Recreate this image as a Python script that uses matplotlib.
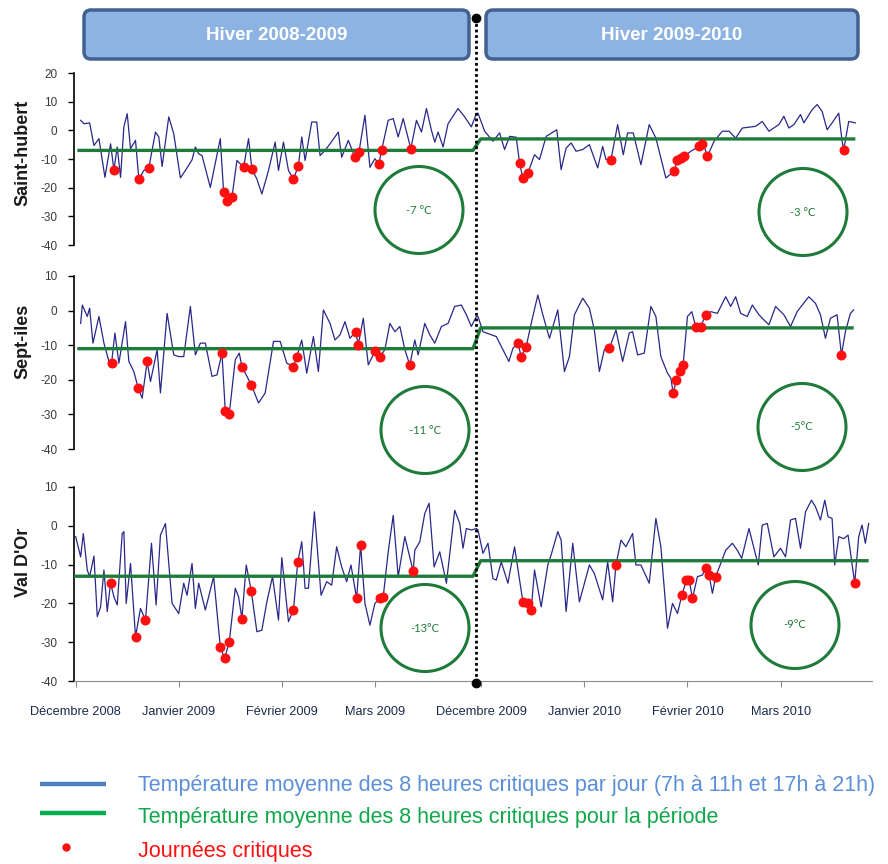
import matplotlib
matplotlib.use("Agg")
import matplotlib.pyplot as plt
from matplotlib.patches import FancyBboxPatch, Ellipse
import numpy as np

plt.rcParams['font.family'] = ['Liberation Sans', 'DejaVu Sans']
plt.rcParams['axes.unicode_minus'] = False

# ---------------- data ----------------
stations = ["Saint-hubert", "Sept-iles", "Val D'Or"]
winters = ["Hiver 2008-2009", "Hiver 2009-2010"]
month_labels = ["Décembre 2008", "Janvier 2009", "Février 2009", "Mars 2009",
                "Décembre 2009", "Janvier 2010", "Février 2010", "Mars 2010"]
month_days = [0, 31, 62, 90, 122, 153, 184, 212]
winter2_start = 122
y_max = [20, 10, 10]

# Saint-hubert
sh_w1_day = [1.5, 2.5, 4.2, 5.5, 7.0, 8.8, 10.5, 11.5, 12.5, 13.5, 14.5, 15.5, 16.5, 18.0, 19.0, 20.5, 22.0, 24.0, 25.0, 26.0,
             28.0, 29.5, 31.5, 33.0, 35.0, 36.0, 37.0, 38.0, 40.5, 43.5, 44.5, 45.5, 47.0, 48.5, 50.5, 52.0, 53.0, 54.5, 56.0, 58.0,
             60.0, 61.0, 62.5, 64.0, 65.5, 67.0, 68.0, 69.0, 71.0, 72.5, 73.5, 75.0, 76.5, 79.0, 80.0, 82.0, 84.0, 85.2, 87.0, 88.5,
             90.0, 91.2, 92.0, 94.0, 95.5, 97.0, 98.5, 100.8, 102.5, 104.0, 105.5, 107.0, 108.0, 109.0, 110.5, 112.0, 115.0, 117.0, 119.0, 120.5]
sh_w1_temp = [3.5, 2.3, 2.6, -5.3, -2.9, -16.4, -4.7, -13.8, -5.8, -16.4, 1.2, 5.8, -6.4, -3.5, -17.0, -14.0, -13.1, -0.6, -2.3, -12.6,
              4.7, -1.2, -16.6, -14.0, -10.3, -5.8, -8.2, -8.8, -19.9, -2.9, -21.6, -24.6, -23.4, -10.5, -12.9, -2.9, -13.5, -17.0, -22.2, -14.0,
              -4.1, -14.0, -4.1, -14.0, -17.0, -12.3, -2.3, -10.5, 2.9, 2.9, -8.8, -7.0, -4.7, -0.6, -9.4, -3.5, -9.4, -7.6, 5.3, -12.9,
              -9.9, -11.7, -7.0, 3.5, 4.1, -2.3, 4.1, -6.4, 3.5, -0.6, 7.6, 0.0, -4.1, -0.6, -5.8, 2.3, 7.6, 4.7, 1.2, 5.8]
sh_w1_crit_day = [11.5, 19.0, 22.0, 44.5, 45.5, 47.0, 50.5, 53.0, 65.5, 67.0, 84.0, 85.2, 91.2, 92.0, 100.8]
sh_w1_crit_temp = [-13.8, -17.0, -13.1, -21.6, -24.6, -23.4, -12.9, -13.5, -17.0, -12.3, -9.4, -7.6, -11.7, -7.0, -6.4]
sh_w2_day = [-1.0, 1.0, 3.5, 5.5, 7.0, 8.5, 10.5, 11.5, 12.5, 14.0, 16.0, 17.5, 19.5, 22.7, 24.0, 25.5, 27.0, 28.5, 30.5, 32.5,
             35.0, 36.5, 37.5, 39.0, 41.0, 42.7, 44.0, 45.7, 48.0, 50.5, 52.5, 55.5, 58.0, 59.0, 61.0, 63.0, 65.5, 66.5, 68.0, 70.0,
             72.5, 74.5, 76.5, 78.5, 82.5, 84.5, 86.5, 89.5, 91.0, 92.5, 94.0, 96.0, 97.0, 99.5, 101.0, 102.5, 104.0, 105.5, 107.5, 108.5,
             109.0, 110.5, 112.5]
sh_w2_temp = [6.0, -0.3, -3.8, -0.9, -6.7, -2.1, -2.4, -11.4, -16.6, -14.9, -8.5, -10.2, -2.1, 0.2, -13.7, -6.2, -4.4, -7.3, -6.7, -5.0,
              -13.1, -5.6, -10.2, -10.2, 2.0, -8.5, -0.9, -0.9, -12.0, 2.0, -2.7, -16.6, -14.3, -10.2, -9.1, -7.3, -5.6, -3.8, -9.1, -3.8,
              -0.3, -0.3, -2.7, 0.8, 1.4, 3.1, -0.3, 2.0, 4.9, 0.8, 2.0, 5.5, 2.6, 7.2, 9.0, 6.6, 0.2, 2.6, 6.0, -3.8,
              -6.7, 3.1, 2.6]
sh_w2_crit_day = [11.5, 12.5, 14.0, 39.0, 58.0, 59.0, 60.0, 61.0, 65.5, 66.5, 68.0, 109.0]
sh_w2_crit_temp = [-11.4, -16.6, -14.9, -10.2, -14.3, -10.2, -9.6, -9.1, -5.6, -4.7, -9.1, -6.7]
sh_mean = [-7, -3]

# Sept-iles
si_w1_day = [1.5, 2.0, 3.5, 4.2, 5.2, 7.0, 8.5, 10.0, 10.8, 11.8, 13.0, 15.0, 16.0, 17.5, 18.8, 20.0, 21.5, 22.5, 24.5, 25.5,
             27.5, 29.5, 31.0, 32.5, 34.5, 36.0, 37.5, 39.0, 41.0, 42.5, 44.0, 45.0, 46.2, 48.0, 49.2, 50.0, 51.5, 52.8, 55.0, 57.0,
             59.5, 61.5, 63.5, 65.5, 66.5, 68.0, 69.5, 71.5, 73.0, 74.5, 76.5, 78.0, 79.5, 81.0, 82.5, 84.2, 85.0, 86.5, 88.0, 90.0,
             91.5, 93.0, 94.5, 96.0, 97.5, 99.0, 100.5, 102.0, 103.0, 105.0, 106.5, 108.0, 110.0, 112.0, 114.0, 116.0, 117.5, 119.0, 120.5]
si_w1_temp = [-3.7, 1.6, -1.7, 0.7, -9.4, -1.7, -9.4, -14.7, -15.2, -6.5, -15.2, -3.2, -14.7, -17.6, -22.4, -25.3, -14.7, -20.5, -11.3, -23.8,
              -0.8, -12.8, -13.3, -13.3, 1.2, -12.8, -9.4, -9.4, -19.0, -18.6, -12.3, -29.1, -29.8, -14.2, -12.3, -16.2, -19.0, -21.4, -26.7, -23.8,
              -8.9, -8.9, -15.2, -16.2, -13.3, -8.5, -18.1, -7.5, -17.6, 0.2, -3.7, -8.5, -7.0, -3.2, -8.0, -6.1, -9.9, -2.2, -15.7, -11.8,
              -13.3, -11.3, -3.7, -6.1, -4.6, -11.3, -15.7, -8.5, -12.8, -3.7, -7.0, -9.4, -4.6, -3.7, 1.2, 1.6, -1.2, -4.6, -1.7]
si_w1_crit_day = [10.8, 18.8, 21.5, 44.0, 45.0, 46.2, 50.0, 52.8, 65.5, 66.5, 84.2, 85.0, 90.0, 91.5, 100.5]
si_w1_crit_temp = [-15.2, -22.4, -14.7, -12.3, -29.1, -29.8, -16.2, -21.4, -16.2, -13.3, -6.1, -9.9, -11.8, -13.3, -15.7]
si_w2_day = [-1.0, 0.5, 4.5, 6.5, 8.3, 9.5, 11.0, 12.0, 13.5, 15.0, 17.0, 18.5, 20.5, 23.0, 25.0, 26.5, 28.0, 30.5, 32.5, 34.0,
             35.5, 37.0, 38.5, 40.5, 42.5, 44.5, 45.5, 47.0, 49.0, 51.0, 52.5, 54.0, 56.0, 57.0, 57.7, 58.7, 59.7, 60.7, 62.0, 63.3,
             64.5, 66.0, 67.5, 69.0, 71.0, 73.5, 75.0, 76.5, 78.0, 80.0, 81.5, 83.5, 85.0, 86.5, 88.5, 91.0, 93.0, 95.0, 96.5, 98.5,
             100.5, 102.0, 103.5, 105.0, 107.0, 108.3, 109.5, 111.0, 112.0]
si_w2_temp = [-1.7, -6.1, -7.5, -11.3, -14.7, -10.9, -9.4, -13.3, -10.4, -3.7, 4.5, -1.2, -8.0, 0.2, -17.6, -13.3, -1.2, 3.6, 0.7, -5.6,
              -17.6, -11.3, -10.9, -5.6, -14.7, -6.5, -6.1, -12.8, -12.3, 1.2, -1.7, -13.3, -18.1, -19.5, -23.8, -20.0, -17.6, -15.7, -1.7, -0.3,
              -4.6, -4.6, -1.2, -0.3, -0.8, 4.0, 1.2, 4.0, -0.8, -1.7, 1.6, -1.2, -2.7, -4.1, 1.2, -1.2, -4.6, -0.3, 1.6, 4.0,
              2.1, -1.2, -8.0, -2.2, -1.2, -12.8, -6.1, -0.8, 0.2]
si_w2_crit_day = [11.0, 12.0, 13.5, 38.5, 57.7, 58.7, 59.7, 60.7, 64.5, 66.0, 67.5, 108.3]
si_w2_crit_temp = [-9.4, -13.3, -10.4, -10.9, -23.8, -20.0, -17.6, -15.7, -4.6, -4.6, -1.2, -12.8]
si_mean = [-11, -5]

# Val D'Or
vd_w1_day = [0.0, 1.5, 2.3, 3.5, 4.2, 5.5, 6.5, 7.5, 8.5, 9.5, 10.5, 11.5, 12.5, 14.0, 14.5, 15.2, 16.5, 18.0, 19.5, 21.0,
             22.8, 24.2, 25.5, 27.0, 29.0, 31.0, 32.5, 33.5, 35.0, 36.0, 37.0, 39.0, 41.5, 43.5, 44.8, 46.2, 48.0, 49.0, 50.0, 51.3,
             52.8, 54.5, 56.0, 57.5, 59.2, 61.0, 62.0, 64.0, 65.5, 66.8, 68.0, 69.0, 70.0, 71.8, 73.8, 75.5, 77.0, 78.5, 80.0, 81.5,
             82.8, 84.5, 85.7, 87.0, 88.5, 90.0, 91.5, 92.5, 94.0, 95.5, 97.0, 99.0, 101.5, 102.0, 103.5, 105.0, 106.3, 107.8, 109.5, 111.5,
             114.0, 115.5, 116.5, 117.5, 119.0, 120.5]
vd_w1_temp = [-2.8, -8.0, -2.0, -11.4, -13.1, -7.8, -23.4, -20.9, -11.4, -22.1, -14.7, -18.3, -20.4, -2.0, -1.5, -20.0, -9.7, -28.6, -21.3, -24.3,
              -4.5, -20.4, -2.4, 0.6, -20.0, -22.6, -14.8, -17.9, -9.7, -21.3, -14.8, -21.7, -13.1, -31.2, -34.2, -29.9, -16.1, -18.3, -23.9, -10.1,
              -16.7, -27.3, -26.9, -19.6, -13.1, -24.3, -8.2, -24.7, -21.7, -9.3, -4.1, -16.1, -16.1, 3.6, -17.9, -14.4, -15.3, -5.4, -10.6, -14.4,
              -10.1, -18.7, -5.0, -20.0, -25.6, -20.0, -18.7, -18.3, -6.7, 2.7, -13.1, -2.8, -11.7, -6.3, -4.1, 3.2, 5.8, -10.6, -6.7, -14.8,
              4.0, 0.6, -5.8, -0.7, -1.1, -0.7]
vd_w1_crit_day = [10.5, 18.0, 21.0, 43.5, 44.8, 46.2, 50.0, 52.8, 65.5, 66.8, 84.5, 85.7, 91.5, 92.5, 101.5]
vd_w1_crit_temp = [-14.7, -28.6, -24.3, -31.2, -34.2, -29.9, -23.9, -16.7, -21.7, -9.3, -18.7, -5.0, -18.7, -18.3, -11.7]
vd_w2_day = [-1.0, 0.5, 2.0, 3.5, 4.5, 6.0, 8.0, 10.0, 11.5, 12.5, 14.0, 15.0, 16.0, 18.0, 20.0, 21.0, 23.0, 24.0, 25.5, 27.5,
             29.5, 32.5, 34.0, 36.5, 38.0, 39.5, 40.5, 42.0, 43.5, 45.5, 46.5, 48.0, 50.5, 52.5, 54.0, 56.0, 57.5, 59.0, 60.3, 61.7,
             62.5, 63.5, 65.0, 66.5, 67.5, 68.5, 69.5, 70.5, 72.0, 73.5, 75.5, 77.0, 78.3, 80.5, 82.0, 83.3, 84.5, 86.0, 88.0, 90.0,
             91.5, 93.0, 94.5, 96.0, 97.5, 99.3, 100.5, 102.0, 103.3, 104.3, 105.5, 106.3, 107.5, 109.0, 110.3, 112.3, 113.5, 114.5, 115.5, 116.5]
vd_w2_temp = [-1.1, -7.1, -4.5, -13.6, -14.0, -9.3, -14.8, -5.4, -14.0, -19.6, -20.0, -21.7, -11.4, -20.9, -10.1, -7.5, -1.5, -3.7, -22.1, -4.5,
              -19.6, -10.1, -12.3, -19.1, -9.3, -19.6, -10.1, -3.7, -5.4, -2.0, -10.1, -10.1, -14.8, 1.9, -5.4, -26.4, -20.0, -22.6, -17.9, -14.0,
              -14.0, -18.7, -13.1, -12.7, -11.0, -12.7, -17.4, -13.1, -9.7, -6.3, -4.5, -6.3, -8.4, -0.7, -5.8, -10.1, 0.2, 0.6, -8.0, -5.8,
              -8.0, 1.5, 1.9, -5.8, 3.6, 6.6, 4.9, 1.5, 6.6, 2.3, 1.9, -10.1, -2.8, -3.3, -2.4, -14.8, -2.8, 0.2, -4.5, 0.6]
vd_w2_crit_day = [12.5, 14.0, 15.0, 40.5, 60.3, 61.7, 62.5, 63.5, 67.5, 68.5, 70.5, 112.3]
vd_w2_crit_temp = [-19.6, -20.0, -21.7, -10.1, -17.9, -14.0, -14.0, -18.7, -11.0, -12.7, -13.1, -14.8]
vd_mean = [-13, -9]

circle_labels = [["-7 °C", "-3 °C"], ["-11 °C", "-5°C"], ["-13°C", "-9°C"]]

legend_labels = ["Température moyenne des 8 heures critiques par jour (7h à 11h et 17h à 21h)",
                 "Température moyenne des 8 heures critiques pour la période",
                 "Journées critiques"]

series = [
    (sh_w1_day, sh_w1_temp, sh_w1_crit_day, sh_w1_crit_temp, sh_w2_day, sh_w2_temp, sh_w2_crit_day, sh_w2_crit_temp, sh_mean),
    (si_w1_day, si_w1_temp, si_w1_crit_day, si_w1_crit_temp, si_w2_day, si_w2_temp, si_w2_crit_day, si_w2_crit_temp, si_mean),
    (vd_w1_day, vd_w1_temp, vd_w1_crit_day, vd_w1_crit_temp, vd_w2_day, vd_w2_temp, vd_w2_crit_day, vd_w2_crit_temp, vd_mean),
]

# ---------------- styling / layout ----------------
W, H = 888, 864
NAVY = "#28288A"
GREEN = "#1E7B3A"
RED = "#FF1010"

fig = plt.figure(figsize=(W / 100, H / 100), dpi=100)


def rect(left, top, right, bottom):
    return [left / W, 1 - bottom / H, (right - left) / W, (bottom - top) / H]


panel_px = [(73, 245), (276, 449), (487, 681)]
AX_L, AX_R = 74, 872
XLIM = (-0.5, 239.5)
axes = []
for i, (top, bottom) in enumerate(panel_px):
    ax = fig.add_axes(rect(AX_L, top, AX_R, bottom))
    w1d, w1t, c1d, c1t, w2d, w2t, c2d, c2t, mean = series[i]
    x1 = np.asarray(w1d)
    x2 = winter2_start + np.asarray(w2d)
    ax.plot(np.r_[x1, x2], np.r_[w1t, w2t], color=NAVY, lw=0.9, zorder=2)
    ax.plot([x1[0] - 1, x1[-1] - 1, x2[0] + 0.8, x2[-1]], [mean[0], mean[0], mean[1], mean[1]],
            color=GREEN, lw=2.4, zorder=3, solid_capstyle='butt')
    ax.plot(np.r_[np.asarray(c1d), winter2_start + np.asarray(c2d)], np.r_[c1t, c2t], 'o',
            color=RED, ms=7.2, mec='none', zorder=4)
    ax.set_xlim(*XLIM)
    ax.set_ylim(-40, y_max[i])
    ax.set_yticks(range(-40, y_max[i] + 1, 10))
    ax.tick_params(axis='y', direction='out', length=4, width=1, pad=8,
                   labelsize=8.5, labelcolor='#3a3a3a', color='black')
    for s in ('top', 'right'):
        ax.spines[s].set_visible(False)
    ax.spines['left'].set_linewidth(1.2)
    ax.patch.set_alpha(0)
    if i < 2:
        ax.spines['bottom'].set_visible(False)
        ax.set_xticks([])
    else:
        ax.spines['bottom'].set_color('#8c8c8c')
        ax.set_xticks(month_days)
        ax.set_xticklabels(month_labels, fontsize=9.2, color='#1c2a4a')
        ax.tick_params(axis='x', direction='out', length=4, color='#8c8c8c', pad=14)
    axes.append(ax)

# overlay in pixel coordinates for decorations
ov = fig.add_axes([0, 0, 1, 1])
ov.set_xlim(0, W)
ov.set_ylim(H, 0)
ov.axis('off')
ov.patch.set_alpha(0)

# header boxes
for (x0, x1b), label in zip([(84, 469), (486, 858)], winters):
    box = FancyBboxPatch((x0, 10), x1b - x0, 49, boxstyle="round,pad=0,rounding_size=7",
                         fc="#8DB3E2", ec="#41618F", lw=2.5)
    ov.add_patch(box)
    ov.text((x0 + x1b) / 2, 35, label, ha='center', va='center', color='white',
            fontsize=13.5, fontweight='bold')

# divider
div_x = AX_L + (120.5 - XLIM[0]) / (XLIM[1] - XLIM[0]) * (AX_R - AX_L)
ov.plot([div_x, div_x], [18, 683], color='black', lw=2, ls=(0, (1, 1)))
ov.plot([div_x, div_x], [18, 683], 'o', color='black', ms=6)

# station labels
for (lx, ly), name in zip([(23, 153), (23, 341), (23, 562)], stations):
    ov.text(lx, ly, name, rotation=90, ha='center', va='center', fontsize=13,
            fontweight='bold', color='#1a1a1a')

# circles with mean values
circle_px = [[(419, 210), (803, 212)], [(425, 430), (802, 427)], [(425, 628), (795, 625)]]
for i in range(3):
    for j in range(2):
        cx, cy = circle_px[i][j]
        ov.add_patch(Ellipse((cx, cy), 88, 87, fill=False, ec=GREEN, lw=2.2))
        ov.text(cx, cy, circle_labels[i][j], ha='center', va='center', color=GREEN,
                fontsize=8, family=['Lato', 'DejaVu Sans'])

# legend
ov.plot([40, 106], [784, 784], color="#4F7FC0", lw=3.2, solid_capstyle='butt')
ov.text(138, 786, legend_labels[0], color="#5B8FD8", fontsize=15.5, va='center')
ov.plot([40, 106], [813, 813], color="#00B050", lw=3.2, solid_capstyle='butt')
ov.text(138, 818, legend_labels[1], color="#10A84A", fontsize=15.5, va='center')
ov.plot([66], [847], 'o', color=RED, ms=5)
ov.text(138, 852, legend_labels[2], color=RED, fontsize=15.5, va='center')

fig.savefig("out.png", dpi=100)
